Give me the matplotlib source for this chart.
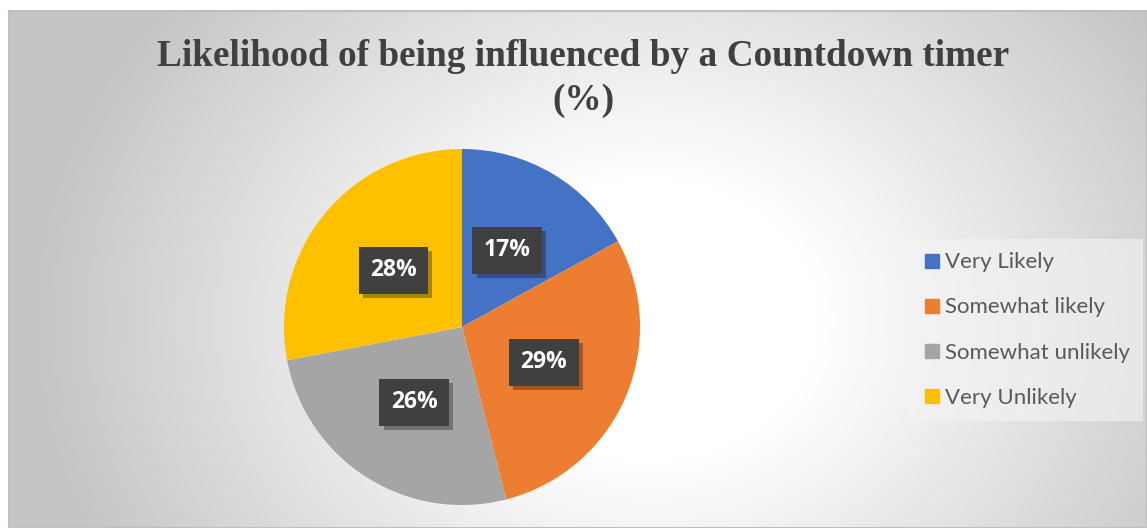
import numpy as np
import matplotlib.pyplot as plt
from matplotlib.lines import Line2D
from matplotlib import patheffects as pe

# chart values
categories = ['Very Likely', 'Somewhat likely', 'Somewhat unlikely', 'Very Unlikely']
shares = [17, 29, 26, 28]
colors = ['#4472C4', '#ED7D31', '#A5A5A5', '#FFC000']

W, H = 1147, 528
fig = plt.figure(figsize=(W / 100, H / 100), dpi=100)
fig.patch.set_facecolor('white')

# chart area with radial gradient (starts at x=9, y=11 px)
x0, y0 = 9, 11
bg = fig.add_axes([x0 / W, 0, (W - x0) / W, (H - y0) / H])
yy, xx = np.mgrid[0:H - y0, 0:W - x0]
d = np.sqrt((xx + x0 - 650) ** 2 + ((yy + y0 - 320) * 1.2) ** 2)
t = np.clip((d - 170) / 440, 0, 1)
g = 255 - 57 * t
img = np.dstack([g, g, g]) / 255
bg.imshow(img, aspect='auto', extent=[0, 1, 0, 1], origin='upper')
bg.set_xlim(0, 1)
bg.set_ylim(0, 1)
bg.set_xticks([])
bg.set_yticks([])
for s in bg.spines.values():
    s.set_color('#bfbfbf')
    s.set_linewidth(1.5)

# title
fig.text(583 / W, 1 - 57 / H, 'Likelihood of being influenced by a Countdown timer',
         ha='center', va='center', fontsize=26.8, fontweight='bold',
         family='Liberation Serif', color='#404040')
fig.text(583 / W, 1 - 101 / H, '(%)', ha='center', va='center', fontsize=26.8,
         fontweight='bold', family='Liberation Serif', color='#404040')

# pie
cx, cy, r = 462, 327, 178
ax = fig.add_axes([(cx - r) / W, (H - cy - r) / H, 2 * r / W, 2 * r / H])
wedges, texts, autotexts = ax.pie(shares, colors=colors, startangle=90, counterclock=False,
                                  autopct='%d%%', pctdistance=0.5, radius=1)
ax.set_xlim(-1, 1)
ax.set_ylim(-1, 1)
ax.set_aspect('equal')
for at in autotexts:
    at.set_color('white')
    at.set_fontsize(16.5)
    at.set_fontweight('bold')
    at.set_family('Open Sans')
    at.set_bbox(dict(boxstyle='square,pad=0.5', facecolor='#404040', edgecolor='none'))
    at.get_bbox_patch().set_path_effects([pe.withSimplePatchShadow(offset=(3, -3), alpha=0.35)])

# legend
handles = [Line2D([], [], marker='s', linestyle='none', markersize=10,
                  markerfacecolor=c, markeredgecolor=c) for c in colors]
leg = fig.legend(handles, categories, loc='center left',
                 bbox_to_anchor=(908 / W, 1 - 330 / H), frameon=True,
                 prop={'family': 'Lato', 'size': 16}, labelcolor='#595959',
                 labelspacing=1.13, handletextpad=0.05, handlelength=1.0,
                 borderpad=0.6, borderaxespad=0, fancybox=False)
leg.get_frame().set_facecolor('#f4f4f4')
leg.get_frame().set_alpha(0.6)
leg.get_frame().set_edgecolor('none')

fig.savefig('out.png', dpi=100)
